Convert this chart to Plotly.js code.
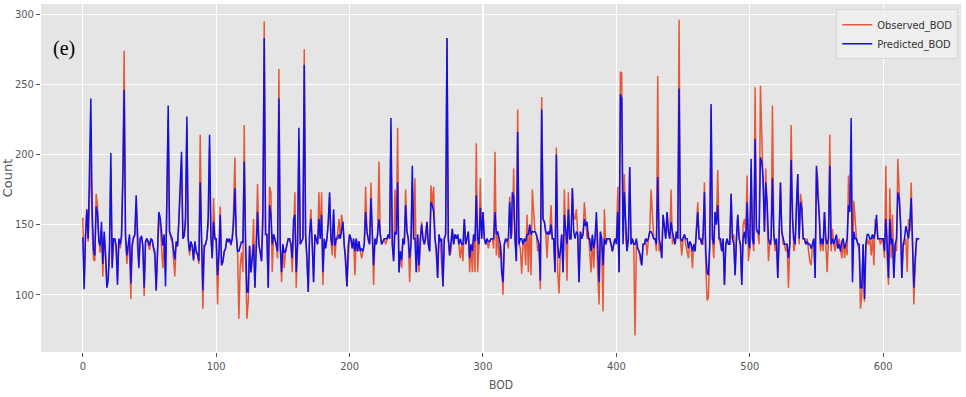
<!DOCTYPE html>
<html><head><meta charset="utf-8">
<script src="https://cdn.plot.ly/plotly-3.0.1.min.js"></script>
<style>html,body{margin:0;padding:0;background:#fff}#chart{width:966px;height:397px}</style>
</head><body><div id="chart"></div>
<script>
const observedBOD = [
155,108,140,160,138,170,200,150,125,124,
172,164,140,130,145,113,142,128,110,112,
128,190,122,140,139,132,110,140,133,140,
191,274,140,122,135,141,97,133,140,142,
165,133,122,140,141,134,99,137,140,136,
132,140,138,132,128,103,130,155,150,136,
119,140,115,160,225,145,140,138,125,113,
138,134,150,170,195,140,142,150,220,140,
128,137,134,124,138,130,128,122,214,140,
90,132,136,140,150,205,142,126,169,140,
138,93,128,163,121,123,130,133,140,137,
140,135,140,160,198,143,131,83,121,130,
116,221,125,83,95,135,116,126,154,105,
140,179,135,131,124,150,295,143,143,105,
177,173,116,143,140,135,126,261,135,109,
136,119,131,136,140,140,136,116,150,173,
105,136,210,136,138,140,275,143,126,102,
143,161,136,109,143,140,136,173,140,173,
107,140,133,140,150,170,140,128,158,126,
140,143,154,140,157,150,135,126,106,124,
143,140,133,140,114,140,131,138,131,126,
131,136,177,145,138,136,180,140,107,140,
136,143,195,143,136,138,140,136,140,143,
140,215,136,124,175,143,219,116,131,119,
140,136,175,145,140,109,136,180,140,183,
116,143,116,140,152,140,136,145,152,136,
131,178,164,177,140,128,112,143,138,121,
106,140,143,283,140,128,131,147,136,143,
140,143,136,126,136,124,154,136,140,145,
116,136,116,143,116,208,116,136,183,140,
159,140,136,140,133,138,140,140,133,202,
128,145,126,136,128,100,136,140,138,133,
170,140,145,190,140,124,232,136,133,115,
136,140,121,157,116,150,114,175,159,145,
143,131,136,104,241,154,152,145,126,145,
143,164,140,140,116,205,116,101,131,143,
116,175,143,110,173,140,140,176,154,154,
161,143,109,145,140,143,166,149,140,145,
131,116,140,119,140,152,116,93,145,136,
88,161,136,140,140,140,136,131,136,140,
138,177,116,259,258,145,186,140,131,140,
191,136,140,136,71,136,133,131,124,121,
136,136,140,128,140,145,175,159,140,140,
131,256,131,136,126,157,150,140,159,145,
140,175,136,140,136,145,140,296,140,128,
140,143,136,131,126,138,136,119,136,131,
145,166,140,140,136,136,180,121,96,98,
136,233,140,126,159,154,189,140,136,131,
140,107,136,140,136,136,172,140,143,114,
140,157,140,136,107,150,154,145,185,124,
133,190,140,131,248,145,145,136,249,209,
188,145,190,164,124,136,136,235,143,131,
140,112,140,180,145,136,136,131,136,105,
136,221,164,131,136,164,186,136,172,166,
140,140,136,140,131,124,121,136,140,112,
190,183,157,131,140,131,159,136,116,140,
214,131,147,136,131,140,133,140,131,126,
140,126,136,128,185,160,195,116,167,154,
140,136,131,90,100,136,95,131,140,136,
140,128,143,121,154,150,140,140,136,140,
138,126,192,126,107,176,126,157,112,136,
131,197,173,152,112,136,136,140,116,154,
145,180,140,93,121,138,140,140
];
const predictedBOD = [
141,104,142,161,140,180,240,160,132,128,
163,158,138,135,152,122,145,130,105,110,
135,201,119,140,140,135,107,140,136,142,
180,246,143,128,138,143,108,136,141,143,
171,136,119,140,142,135,105,138,140,138,
135,140,139,134,130,103,132,159,155,142,
135,143,106,170,235,145,142,140,132,125,
138,135,154,180,202,140,142,155,227,140,
131,138,135,125,138,131,129,124,180,140,
103,135,136,140,155,214,143,126,152,140,
140,114,128,157,121,124,131,133,140,138,
140,136,140,150,176,143,131,131,135,138,
137,195,140,102,102,135,116,126,136,105,
140,159,136,131,124,160,283,143,143,105,
164,157,136,143,140,136,131,240,136,116,
136,130,131,136,140,140,136,126,154,157,
116,136,219,136,138,140,264,143,126,102,
143,154,136,109,143,140,136,154,140,157,
116,140,133,140,152,173,140,135,161,135,
140,140,143,140,145,152,135,126,106,135,
143,140,133,140,131,140,131,138,131,133,
131,136,159,145,140,136,169,140,121,140,
136,143,154,143,136,138,140,140,140,143,
140,226,136,124,145,143,180,116,131,125,
140,136,164,145,140,126,136,192,140,140,
116,143,121,140,150,140,136,140,152,136,
131,166,164,159,140,133,112,143,138,140,
106,140,143,283,140,128,140,147,136,143,
140,143,136,140,136,136,154,136,140,145,
126,136,131,143,138,171,140,136,162,140,
159,140,136,140,138,138,140,140,140,159,
143,145,140,136,116,109,136,140,138,140,
166,140,173,170,140,124,216,136,140,140,
136,140,138,143,143,150,143,145,145,145,
143,140,136,110,232,154,152,145,143,145,
143,150,140,140,116,200,136,126,131,143,
116,157,143,136,161,140,140,176,145,140,
145,143,109,145,140,143,154,149,152,140,
140,131,143,133,140,159,136,109,145,140,
121,140,136,140,140,140,136,131,136,140,
136,159,116,243,240,136,173,152,131,140,
191,136,140,136,136,140,133,131,128,121,
136,136,140,138,140,145,145,143,140,140,
136,184,140,136,126,157,150,140,159,145,
140,152,145,140,136,145,140,247,140,138,
140,143,140,140,133,138,136,131,136,131,
145,159,140,140,136,143,173,131,116,114,
136,236,140,136,159,150,164,140,140,131,
140,107,136,140,136,136,172,140,136,114,
140,157,140,136,107,140,145,136,166,138,
133,197,140,136,211,147,145,143,198,195,
183,145,180,166,140,136,140,183,143,136,
140,112,140,180,145,140,136,136,136,126,
136,196,154,140,136,164,186,140,166,161,
140,140,136,138,136,136,133,136,140,112,
192,171,159,136,140,136,159,140,136,140,
192,136,140,136,140,143,133,136,131,138,
140,133,136,140,164,159,226,109,145,140,
140,136,136,105,105,136,97,136,143,143,
140,140,143,140,145,157,140,140,140,140,
140,131,154,136,112,154,136,140,112,136,
140,173,169,152,112,136,140,149,143,140,
150,169,136,105,126,140,140,140
];
const seriesNames = ['Observed_BOD', 'Predicted_BOD'];
const xTicks = [0, 100, 200, 300, 400, 500, 600];
const yTicks = [100, 150, 200, 250, 300];

const xs = observedBOD.map((_, i) => i);
const font = {family: 'DejaVu Sans Condensed, DejaVu Sans, sans-serif', size: 11, color: '#555'};

const traces = [
  {x: xs, y: observedBOD, type: 'scatter', mode: 'lines', name: seriesNames[0],
   line: {color: '#E5583A', width: 1.5}},
  {x: xs.slice(0, predictedBOD.length), y: predictedBOD, type: 'scatter', mode: 'lines', name: seriesNames[1],
   line: {color: '#1010E8', width: 1.5}}
];

const layout = {
  width: 966, height: 397,
  margin: {l: 41, r: 5, t: 4, b: 45},
  paper_bgcolor: '#ffffff',
  plot_bgcolor: '#E5E5E5',
  font: font,
  showlegend: true,
  legend: {x: 0.997, y: 0.985, xanchor: 'right', yanchor: 'top',
    bgcolor: 'rgba(238,238,238,0.9)', bordercolor: '#d6d6d6', borderwidth: 1,
    font: {family: 'DejaVu Sans Condensed, DejaVu Sans, sans-serif', size: 11, color: '#333'},
    itemwidth: 30, tracegroupgap: 2},
  xaxis: {range: [-31.35, 658.35], tickvals: xTicks, ticktext: xTicks.map(String),
    showgrid: true, gridcolor: '#ffffff', gridwidth: 1.2, zeroline: false,
    ticks: 'outside', ticklen: 4, tickcolor: '#555', showline: false,
    title: {text: 'BOD', font: {family: 'DejaVu Sans Condensed, DejaVu Sans, sans-serif', size: 12, color: '#555'}, standoff: 8}},
  yaxis: {range: [59.2, 307.3], tickvals: yTicks, ticktext: yTicks.map(String),
    showgrid: true, gridcolor: '#ffffff', gridwidth: 1.2, zeroline: false,
    ticks: 'outside', ticklen: 4, tickcolor: '#555', showline: false,
    title: {text: 'Count', font: {family: 'DejaVu Sans, sans-serif', size: 13, color: '#555'}, standoff: 2}},
  annotations: [{xref: 'paper', yref: 'paper', x: 0.011, y: 0.873, xanchor: 'left', yanchor: 'middle',
    text: '(e)', showarrow: false,
    font: {family: 'Liberation Serif, Times New Roman, serif', size: 20, color: '#000'}}]
};

Plotly.newPlot('chart', traces, layout, {displayModeBar: false, staticPlot: true});
</script>
</body></html>
